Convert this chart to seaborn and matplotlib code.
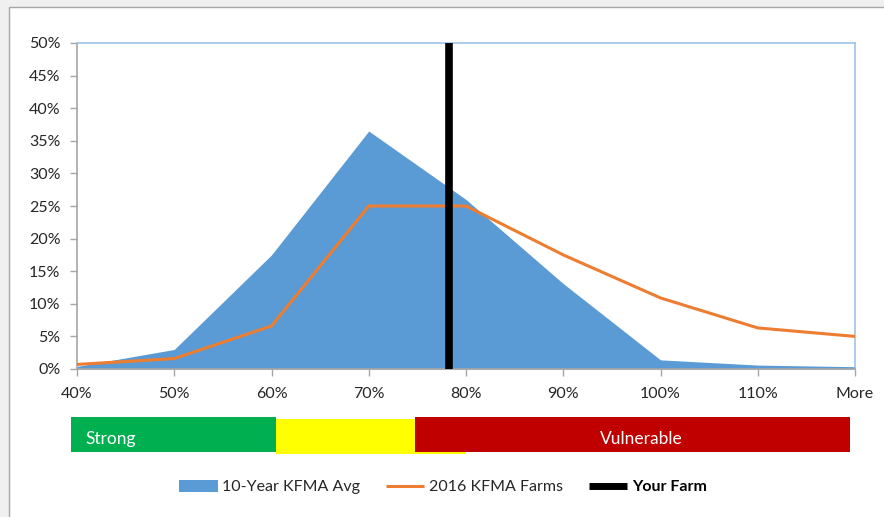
import numpy as np
import pandas as pd
import matplotlib
matplotlib.use("Agg")
import matplotlib.pyplot as plt
from matplotlib.patches import Rectangle, Patch
from matplotlib.lines import Line2D
import seaborn as sns

# Ratio bins (category labels along the x axis)
bins = ["40%", "50%", "60%", "70%", "80%", "90%", "100%", "110%", "More"]
# Share of farms in each bin, percent
avg_10yr = [0.4, 3.0, 17.5, 36.5, 26.0, 13.1, 1.4, 0.6, 0.35]
farms_2016 = [0.7, 1.6, 6.6, 25.0, 25.0, 17.5, 10.9, 6.3, 5.0]
# Your farm's ratio, percent
your_farm = 78.3
y_ticks = [0, 5, 10, 15, 20, 25, 30, 35, 40, 45, 50]

# Rating bands, expressed in bin positions
band_labels = ["Strong", "", "Vulnerable"]
band_starts = [-0.06, 2.05, 3.48]
band_ends = [2.05, 4.0, 7.95]
band_colors = ["#00b050", "#ffff00", "#c00000"]

sns.set_theme(style="white")
plt.rcParams["font.family"] = ["Lato", "DejaVu Sans"]

df = pd.DataFrame({"pos": np.arange(len(bins)), "avg": avg_10yr, "y2016": farms_2016})

fig = plt.figure(figsize=(8.84, 5.17), dpi=100)
fig.patch.set_facecolor("#f0f0f0")
fig.add_artist(Rectangle((9 / 884, -0.01), 1.0, 1 - 7 / 517 + 0.01,
                         transform=fig.transFigure, facecolor="white",
                         edgecolor="#a6a6a6", linewidth=1.0, zorder=0))

ax = fig.add_axes([77 / 884, 1 - 369 / 517, 778 / 884, 326 / 517])
ax.set_facecolor("white")

blue = "#5b9bd5"
orange = "#ed7d31"
ax.fill_between(df["pos"], df["avg"], 0, color=blue, linewidth=0, zorder=1)
sns.lineplot(data=df, x="pos", y="y2016", color=orange, linewidth=2.2, ax=ax,
             zorder=3, legend=False)
farm_pos = (your_farm - 40) / 10
ax.axvline(farm_pos, color="black", linewidth=5.5, zorder=4)

ax.set_xlim(0, len(bins) - 1)
ax.set_ylim(0, 50)
ax.set_xticks(df["pos"])
ax.set_xticklabels(bins)
ax.set_yticks(y_ticks)
ax.set_yticklabels([f"{t}%" for t in y_ticks])
ax.set_xlabel("")
ax.set_ylabel("")
ax.tick_params(axis="both", which="both", length=5, width=1, color="#a6a6a6",
               labelsize=11.5, labelcolor="#262626", direction="out")
ax.tick_params(axis="x", pad=8, bottom=True)
ax.tick_params(axis="y", pad=7, left=True)
for side in ["left", "bottom"]:
    ax.spines[side].set_color("#a6a6a6")
    ax.spines[side].set_linewidth(1.2)
for side in ["top", "right"]:
    ax.spines[side].set_color("#9dc3e6")
    ax.spines[side].set_linewidth(1.2)

# Rating band strip under the chart
bax = fig.add_axes([77 / 884, 1 - 453 / 517, 778 / 884, 36 / 517])
bax.set_xlim(0, len(bins) - 1)
bax.set_ylim(0, 1)
bax.axis("off")
offsets = [0.03, -0.03, 0.03]
for lab, s, e, c, off in zip(band_labels, band_starts, band_ends, band_colors, offsets):
    bax.add_patch(Rectangle((s, off), e - s, 0.97, facecolor=c, edgecolor="none",
                            clip_on=False))
bax.text(band_starts[0] + 0.15, 0.4, band_labels[0], color="white", fontsize=12.5,
         va="center", ha="left")
bax.text(5.8, 0.4, band_labels[2], color="white", fontsize=12.5, va="center", ha="center")

handles = [Patch(facecolor=blue, edgecolor="none"),
           Line2D([0], [0], color=orange, linewidth=2.2, solid_capstyle="butt"),
           Line2D([0], [0], color="black", linewidth=5, solid_capstyle="butt")]
leg = fig.legend(handles, ["10-Year KFMA Avg", "2016 KFMA Farms", "Your Farm"],
                 loc="center", bbox_to_anchor=(0.501, 1 - 487 / 517), ncol=3,
                 frameon=False, fontsize=11.5, handlelength=2.4, handleheight=0.8,
                 handletextpad=0.3, columnspacing=1.6)
texts = leg.get_texts()
for t in texts[:2]:
    t.set_color("#262626")
texts[2].set_fontweight("bold")
texts[2].set_color("black")

fig.savefig("out.png", dpi=100, facecolor=fig.get_facecolor())
